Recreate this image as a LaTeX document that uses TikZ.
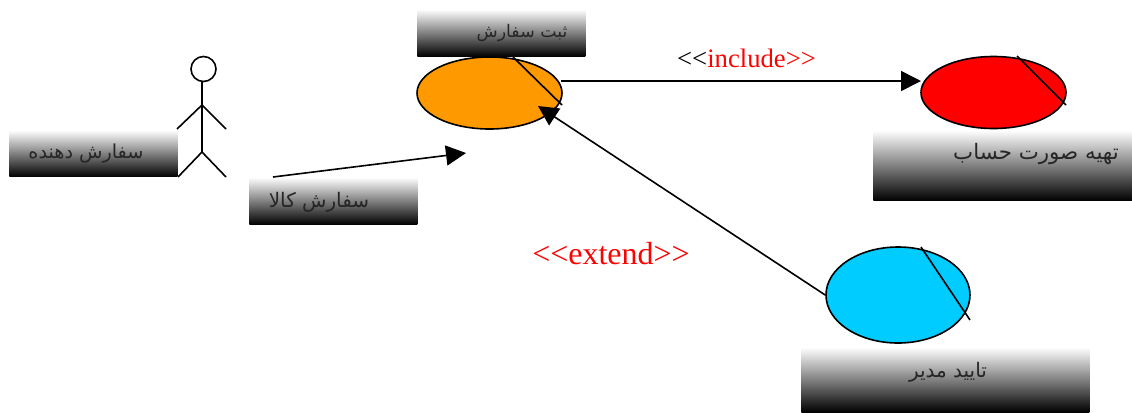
\documentclass[tikz,border=0pt]{standalone}
\usepackage{fontspec}
\setmainfont{Liberation Serif}
\newfontfamily\arabicfont[Script=Arabic]{DejaVu Sans}
\TeXXeTstate=1
\usetikzlibrary{arrows.meta}
\usetikzlibrary{shapes.geometric}
\definecolor{orangecase}{HTML}{FF9900}
\definecolor{bluecase}{HTML}{00CCFF}
\tikzset{
	casestyle/.style={ellipse, draw=black, line width=1.2pt, inner sep=0pt},
	labelstyle/.style={anchor=north west, inner sep=0pt, top color=white, bottom color=black},
	nametext/.style={inner sep=0pt, text=black!85, font=\arabicfont\fontsize{15}{17}\selectfont},
	stereotext/.style={inner sep=0pt, text=red},
	linkstyle/.style={line width=1.2pt, -{Triangle[length=15pt,width=15pt]}},
	stickstyle/.style={line width=1.2pt}
}

\begin{document}
\begin{tikzpicture}[x=0.75pt, y=-0.75pt]
	\useasboundingbox (0,0) rectangle (1132,412);
	% use cases
	\node[casestyle, fill=orangecase, minimum width=108.75pt, minimum height=54pt] (order) at (489.5,93) {};
	\node[casestyle, fill=red, minimum width=108.75pt, minimum height=54pt] (invoice) at (993.5,92.5) {};
	\node[casestyle, fill=bluecase, minimum width=108pt, minimum height=72pt] (confirm) at (898,295) {};
	\draw[stickstyle] (513,57)--(562,105);
	\draw[stickstyle] (1017,56)--(1066,105);
	\draw[stickstyle] (921,247)--(970,320);
	% actor
	\node[circle, draw=black, line width=1.2pt, minimum size=18.75pt, inner sep=0pt] (head) at (203.5,69) {};
	\coordinate (neck) at (202,81);
	\coordinate (hip) at (202,152);
	\coordinate (shoulder) at (202,105);
	\coordinate (lefthand) at (177,129);
	\coordinate (righthand) at (226,129);
	\coordinate (leftfoot) at (178,177);
	\coordinate (rightfoot) at (226,177);
	\draw[stickstyle] (neck)--(hip);
	\draw[stickstyle] (lefthand)--(shoulder)--(righthand);
	\draw[stickstyle] (leftfoot)--(hip)--(rightfoot);
	% name plates
	\node[labelstyle, minimum width=126pt, minimum height=35.5pt] (orderbox) at (417,9) {};
	\node[labelstyle, minimum width=126pt, minimum height=35pt] (actorbox) at (9,130) {};
	\node[labelstyle, minimum width=126pt, minimum height=35.5pt] (goodsbox) at (249,177) {};
	\node[labelstyle, minimum width=194.25pt, minimum height=53pt] (invoicebox) at (873,130) {};
	\node[labelstyle, minimum width=216pt, minimum height=48.75pt] (confirmbox) at (801,347) {};
	\node[nametext, font=\arabicfont\fontsize{13}{15}\selectfont] (ordertext) at (522,33) {\beginR ثبت سفارش\endR};
	\node[nametext, font=\arabicfont\fontsize{14.4}{16}\selectfont] (actortext) at (86,154) {\beginR سفارش دهنده\endR};
	\node[nametext] (goodstext) at (319,202) {\beginR سفارش کالا\endR};
	\node[nametext, font=\arabicfont\fontsize{16}{18}\selectfont] (invoicetext) at (1036,154) {\beginR تهیه صورت حساب\endR};
	\node[nametext] (confirmtext) at (948,372) {\beginR تایید مدیر\endR};
	% links
	\coordinate (goodstail) at (273,177);
	\coordinate (goodstip) at (466,153);
	\coordinate (includetail) at (561,81);
	\coordinate (includetip) at (921,81);
	\coordinate (extendtip) at (538,106);
	\draw[linkstyle] (goodstail)--(goodstip);
	\draw[linkstyle] (includetail)--(includetip);
	\draw[linkstyle] (confirm.west)--(extendtip);
	\node[stereotext, font=\fontsize{20}{22}\selectfont] (includetext) at (746.5,58) {\textcolor{black}{<{}<}include>{}>};
	\node[stereotext, font=\fontsize{24}{26}\selectfont] (extendtext) at (611,254) {<{}<extend>{}>};
\end{tikzpicture}
\end{document}
